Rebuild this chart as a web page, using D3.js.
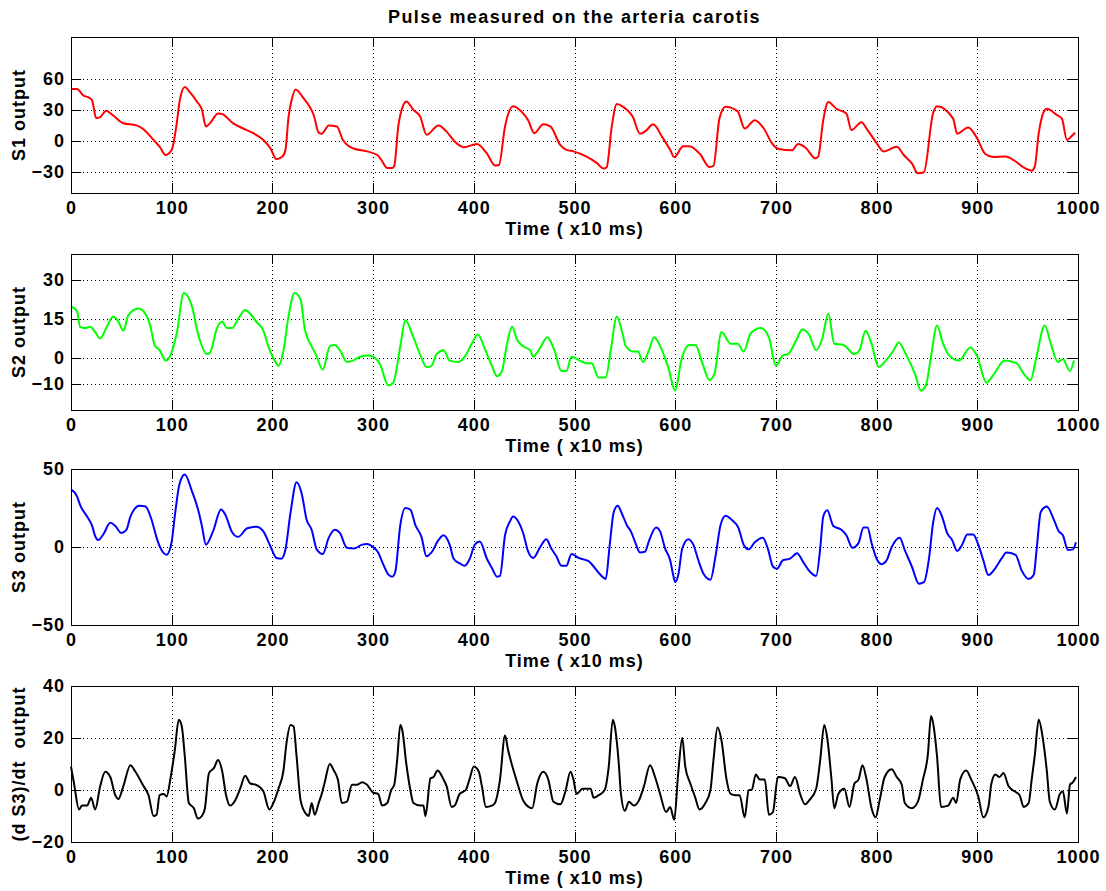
<!DOCTYPE html>
<html>
<head>
<meta charset="utf-8">
<script src="https://cdn.jsdelivr.net/npm/d3@7"></script>
<style>
    body { margin: 0; background: #fff; }
    text { font-family: "Liberation Sans", Arial, sans-serif; font-weight: bold; font-size: 18px; letter-spacing: 1px; fill: #000; }
    .title { letter-spacing: 1.4px; }
    .grid line { stroke: #000; stroke-width: 1; stroke-dasharray: 1,3; shape-rendering: crispEdges; }
    .tick line { stroke: #000; shape-rendering: crispEdges; }
    .box { fill: none; stroke: #000; stroke-width: 1; shape-rendering: crispEdges; }
</style>
</head>
<body>
<div id="chart"></div>
<script>
const timeTicks = [0, 100, 200, 300, 400, 500, 600, 700, 800, 900, 1000];

const s1Ticks = [-30, 0, 30, 60];
const s2Ticks = [-10, 0, 15, 30];
const s3Ticks = [-50, 0, 50];
const s4Ticks = [-20, 0, 20, 40];

// S1 (red), time in x10 ms
const s1Time = [0, 6, 12, 19, 21, 25, 29, 35, 40, 52, 65, 71, 82, 88, 94, 100, 105, 108, 113, 118, 125, 130, 134, 138, 146, 150, 161, 171, 181, 191, 198, 204, 210, 213, 216, 219, 223, 231, 237, 241, 246, 249, 256, 264, 270, 280, 294, 304, 308, 314, 319, 321, 325, 330, 333, 340, 347, 353, 365, 373, 381, 390, 403, 413, 421, 425, 431, 439, 449, 454, 460, 469, 476, 486, 492, 499, 512, 522, 529, 532, 537, 542, 548, 558, 565, 571, 578, 587, 595, 599, 608, 614, 625, 634, 638, 644, 650, 662, 669, 679, 688, 696, 702, 716, 722, 730, 739, 742, 747, 752, 760, 770, 775, 785, 790, 800, 807, 820, 827, 835, 841, 847, 856, 860, 876, 880, 891, 899, 908, 916, 928, 937, 947, 954, 957, 961, 966, 969, 979, 984, 989, 993, 997];
const s1Values = [50, 50, 44, 41, 39, 22, 23, 29, 26, 17, 15, 12, 1, -5.5, -13.5, -8.5, 17, 39, 52, 47, 38, 30, 14, 17, 26.5, 26, 17, 12, 7.5, 1, -7, -17.5, -15, -8.5, 23, 39, 49.5, 41, 33, 25, 8, 7, 15, 14, 1, -7, -10, -13.5, -18, -26, -26, -24, 14, 34.5, 38, 30, 23, 6, 15, 9, -0.5, -6, -3, -12, -23.5, -23, 14, 33.5, 26.5, 20, 7.5, 16, 14, -4, -8.5, -10, -15, -21, -26.5, -25, 14, 35.5, 33, 23, 7, 10, 16, 4, -8.5, -15.5, -5, -5, -13, -25, -24, 22, 33, 28.5, 12, 20, 12, -2, -7.5, -9, -3, -7, -16.5, -15, 20, 37.5, 31, 26.5, 10.5, 18, 12, -2, -10, -5.5, -13.5, -21.5, -31, -30, 26.5, 33.5, 21.5, 7, 13, 4, -12.5, -15.5, -15, -19, -26, -28.5, -25, 7.5, 28, 31, 25, 21.5, 1, 4, 8];

// S2 (green)
const s2Time = [0, 6, 9, 14, 19, 24, 29, 35, 42, 47, 52, 57, 67, 72, 79, 83, 88, 94, 98, 105, 112, 120, 126, 135, 138, 145, 150, 155, 160, 166, 173, 178, 184, 191, 196, 203, 206, 211, 216, 222, 228, 232, 239, 243, 250, 257, 262, 267, 274, 280, 287, 295, 300, 307, 315, 320, 327, 332, 340, 347, 353, 358, 363, 370, 376, 385, 391, 398, 404, 411, 418, 423, 428, 433, 438, 443, 449, 456, 459, 466, 473, 480, 487, 492, 497, 505, 512, 517, 524, 531, 536, 542, 547, 551, 558, 563, 568, 574, 579, 584, 593, 600, 606, 614, 620, 627, 634, 639, 646, 655, 662, 668, 675, 685, 693, 700, 707, 712, 721, 726, 733, 740, 746, 752, 758, 767, 778, 783, 789, 795, 802, 808, 817, 822, 829, 838, 844, 849, 854, 860, 866, 872, 882, 893, 900, 909, 916, 927, 939, 946, 953, 958, 967, 973, 980, 985, 992, 996];
const s2Values = [19.8, 18, 12, 11.5, 12, 10, 7.5, 11.5, 16, 14, 10.5, 16.5, 19, 18, 12, 5, 3, -1, 0.5, 9.5, 25, 20, 9.5, 1.5, 2, 11.5, 14, 11.5, 11.5, 15, 18.5, 17, 14, 10.5, 4.5, -1.5, -3, 3, 16, 25, 22.5, 11.5, 4.5, 1.5, -4.5, 4.5, 5, 3, -1.5, -1, 0.5, 1, 0.5, -2.5, -10.5, -9.5, 4.5, 14.5, 8, 1, -3.5, -3, 1.5, 3, -1, -1.5, 0.5, 5.5, 9, 3.5, -3, -7, -5, 5.5, 12, 7, 4.5, 3, 0.5, 4, 8, 3, -5, -5, 0.5, -1, -2, -2, -7.5, -7.5, 3, 16, 10.5, 4.5, 2.5, 2.5, -1.5, 3, 8, 5.5, -3.5, -12.5, -1, 5, 5, -2, -8.5, -6, 10, 5.5, 5.5, 2.5, 9.5, 11.5, 8, -3, 1, 1.5, 7.5, 11, 9, 3, 7.5, 17, 5.5, 5, 1.5, 3, 10.5, 5.5, -3.5, -1.5, 3, 6, 1.5, -6, -12.5, -10.5, 0.5, 12.5, 5.5, 1, -1, 4, 0.5, -9.5, -6.5, -1, -2, -6, -8.5, -1, 12.5, 5.5, -1.5, -0.5, -5, -1];

// S3 (blue)
const s3Time = [0, 6, 9, 16, 21, 24, 27, 32, 39, 44, 50, 55, 59, 68, 74, 80, 85, 88, 95, 100, 103, 108, 113, 120, 127, 130, 134, 141, 149, 153, 160, 166, 175, 184, 191, 198, 204, 209, 213, 218, 224, 229, 234, 239, 244, 250, 256, 262, 267, 274, 281, 289, 294, 300, 305, 310, 315, 319, 322, 327, 332, 337, 342, 348, 353, 358, 365, 370, 376, 380, 386, 391, 396, 401, 406, 413, 418, 423, 426, 431, 436, 439, 444, 449, 454, 459, 466, 472, 477, 482, 487, 492, 497, 504, 514, 519, 526, 531, 535, 539, 543, 547, 552, 556, 560, 565, 570, 574, 581, 585, 590, 595, 598, 600, 603, 607, 613, 618, 623, 628, 635, 640, 645, 650, 656, 663, 668, 673, 679, 687, 692, 697, 701, 707, 714, 721, 727, 734, 740, 744, 747, 751, 757, 765, 770, 776, 782, 787, 791, 795, 800, 805, 810, 815, 823, 828, 835, 842, 847, 852, 856, 860, 865, 870, 875, 880, 885, 890, 896, 901, 906, 911, 918, 924, 929, 938, 944, 951, 956, 959, 963, 969, 976, 981, 985, 990, 995, 998];
const s3Values = [37, 32.5, 27, 19.5, 13.5, 7, 4.5, 8, 15.5, 13.5, 9, 11, 19.5, 26.5, 26, 17.5, 6, 0.5, -5, 3.5, 19.5, 41, 46.5, 36, 22, 13.5, 1.5, 10, 24, 21, 9.5, 6.5, 12, 13, 10, 0.5, -7, -7.5, -1.5, 22, 41.5, 34.5, 17.5, 11, -1.5, -4.5, 6, 11, 9, -0.5, -1, 1.5, 2, 0, -3.5, -11, -17.5, -19, -16, 14, 25, 24, 14, 6.5, -6, -3.5, 4.5, 7.5, 1.5, -7.5, -10.5, -12, -7.5, 1.5, 3.5, -7.5, -13.5, -19, -18.5, 7.5, 16.5, 19.5, 16.5, 9, -3, -7, 0, 5, -1, -6, -12, -12, -4.5, -7, -9, -12.5, -18, -20.5, 1.5, 22.5, 26.5, 21.5, 14, 10, 3.5, -3.5, -3, 4, 12.5, 10, -1, -8.5, -18, -22.5, -18, -1, 5, 1.5, -8.5, -17, -21, -6, 14, 20, 17.5, 12, 1.5, -1.5, 3, 6, -1, -12.5, -14, -8.5, -7.5, -4, -9.5, -16, -18.5, -1, 19.5, 23.5, 13.5, 11, 7.5, -0.5, 2.5, 12.5, 12.5, 2.5, -7.5, -11, -8.5, 0, 6, -2, -12.5, -23.5, -22.5, -7.5, 15, 25, 19.5, 9, 4.5, -2.5, 1.5, 8, 8, 1.5, -8.5, -18, -13.5, -7.5, -3.5, -5, -15, -20.5, -18, -1, 22.5, 26, 17.5, 10, 7.5, -2, -1.5, 3];

// (d S3)/dt (black)
const s4Time = [0, 3, 8, 11, 16, 20, 24, 29, 34, 39, 44, 47, 52, 59, 64, 72, 77, 82, 85, 88, 92, 95, 99, 103, 107, 110, 113, 117, 122, 126, 130, 133, 137, 142, 146, 150, 154, 158, 163, 168, 173, 178, 184, 191, 197, 201, 206, 211, 214, 218, 221, 224, 228, 233, 236, 239, 242, 246, 249, 252, 257, 261, 265, 269, 274, 279, 284, 289, 294, 300, 305, 309, 314, 318, 321, 324, 327, 329, 333, 337, 340, 347, 350, 352, 357, 360, 364, 370, 373, 378, 381, 386, 392, 396, 400, 405, 408, 412, 418, 421, 426, 431, 434, 438, 443, 449, 458, 463, 469, 474, 479, 486, 491, 496, 499, 502, 508, 516, 519, 524, 530, 534, 538, 540, 544, 546, 550, 554, 559, 564, 569, 575, 580, 585, 591, 595, 599, 603, 607, 610, 615, 620, 624, 630, 635, 638, 642, 646, 651, 655, 660, 664, 669, 673, 676, 680, 684, 689, 693, 697, 702, 709, 714, 719, 724, 729, 733, 740, 744, 748, 751, 755, 758, 762, 768, 773, 778, 782, 786, 790, 795, 799, 803, 808, 815, 820, 825, 828, 835, 841, 846, 851, 854, 856, 860, 864, 871, 876, 879, 883, 889, 894, 901, 906, 911, 914, 918, 922, 926, 931, 937, 942, 946, 951, 954, 957, 961, 965, 969, 972, 977, 982, 985, 989, 992, 995, 998];
const s4Values = [9, 2.5, -7.5, -6, -6, -3, -7.5, 1.5, 7, 5, -2, -3.5, 1.5, 9.5, 7, 1.5, -2, -10, -9.5, -2, -1.5, -2.5, 5, 15, 27, 24.5, 13, -5, -7, -11, -10, -7, 6.5, 8.5, 11.5, 7.5, -2, -6, -4, 0.5, 5.5, 2.5, 2, -0.5, -7.5, -5, 0.5, 7.5, 18, 25, 24.5, 13, -4, -9, -10, -5, -9.5, -5, -1.5, 3, 10, 7.5, 4, -5, -4.5, 2, 2, 3, 2, -1, -1.5, -6, -5, 0, 2, 12, 25, 23, 10, 0, -5, -6, -6, -10, 4.5, 5, 7.5, 4, 1.5, -6.5, -6, -1.5, 0, 4.5, 9, 7, 1.5, -6.5, -6, -5, 4, 21, 15.5, 9.5, 3, -4, -7, 2.5, 7, 4, -4.5, -5.5, -0.5, 7, 4, -1.5, 0.5, 0.5, -3, -2, 0, 9, 27, 24.5, 10, -1, -8, -4.5, -6, -4, 1.5, 9.5, 5, -1.5, -8.5, -6.5, -11.5, 6.5, 20, 9, 2.5, -3, -7.5, -5, 0, 11.5, 24, 19, 4, -1.5, -2, -2, -10.5, 0, 0, 6, 4, 4, -9.5, -8.5, 5, 4.5, 1.5, 5, -1.5, -5.5, -4, 0.5, 11.5, 25, 20, 5, -7, -1.5, 0.5, -6.5, 2.5, 4, 9.5, 4, -7, -10.5, -4, 5, 8, 5, 2, -5, -7, -4.5, 4, 14, 28.5, 26, 13, -6.5, -6, -3, -5, 4, 7.5, 4, -2.5, -10.5, -6.5, 2.5, 6, 5, 6.5, 1.5, -0.5, -2, -6.5, -5, 4, 13, 27, 20, 7.5, -4.5, -7.5, -1.5, -0.5, -9, 2, 3, 5];

const svgSize = { width: 1106, height: 891 };
const plotLeft = 71;
const plotRight = 1078;
const plotHeight = 156;

const panels = [
    { time: s1Time, values: s1Values, ticks: s1Ticks, domain: [-50, 100], color: '#ff0000', label: 'S1 output', top: 37 },
    { time: s2Time, values: s2Values, ticks: s2Ticks, domain: [-20, 40], color: '#00ff00', label: 'S2 output', top: 254 },
    { time: s3Time, values: s3Values, ticks: s3Ticks, domain: [-50, 50], color: '#0000ff', label: 'S3 output', top: 469 },
    { time: s4Time, values: s4Values, ticks: s4Ticks, domain: [-20, 40], color: '#000000', label: '(d S3)/dt  output', top: 686 }
];

const svg = d3.select('#chart')
    .append('svg')
    .attr('width', svgSize.width)
    .attr('height', svgSize.height);

svg.append('rect')
    .attr('width', svgSize.width)
    .attr('height', svgSize.height)
    .attr('fill', '#fff');

svg.append('text')
    .attr('class', 'title')
    .attr('x', (plotLeft + plotRight) / 2)
    .attr('y', 23)
    .attr('text-anchor', 'middle')
    .text('Pulse measured on the arteria carotis');

const x = d3.scaleLinear().domain([0, 1000]).range([0, plotRight - plotLeft]);
const plotWidth = plotRight - plotLeft;

panels.forEach(panel => {
    const y = d3.scaleLinear().domain(panel.domain).range([plotHeight, 0]);

    const g = svg.append('g')
        .attr('transform', `translate(${plotLeft}, ${panel.top})`);

    // dotted grid
    const grid = g.append('g').attr('class', 'grid');
    grid.selectAll('.vgrid')
        .data(timeTicks.filter(t => t > 0 && t < 1000))
        .enter()
        .append('line')
            .attr('x1', d => Math.round(x(d)) + 0.5)
            .attr('x2', d => Math.round(x(d)) + 0.5)
            .attr('y1', 0)
            .attr('y2', plotHeight);
    grid.selectAll('.hgrid')
        .data(panel.ticks.filter(t => t > panel.domain[0] && t < panel.domain[1]))
        .enter()
        .append('line')
            .attr('x1', 0)
            .attr('x2', plotWidth)
            .attr('y1', d => Math.round(y(d)) + 0.5)
            .attr('y2', d => Math.round(y(d)) + 0.5);

    // inward ticks on all four sides
    g.append('g')
        .attr('transform', `translate(0, ${plotHeight})`)
        .call(d3.axisBottom(x).tickValues(timeTicks).tickFormat(d3.format('d'))
            .tickSizeInner(-10).tickSizeOuter(0).tickPadding(8));
    g.append('g')
        .call(d3.axisTop(x).tickValues(timeTicks).tickSizeInner(-10).tickSizeOuter(0).tickFormat(''));
    g.append('g')
        .call(d3.axisLeft(y).tickValues(panel.ticks).tickFormat(d3.format('d'))
            .tickSizeInner(-10).tickSizeOuter(0).tickPadding(6));
    g.append('g')
        .attr('transform', `translate(${plotWidth}, 0)`)
        .call(d3.axisRight(y).tickValues(panel.ticks).tickSizeInner(-10).tickSizeOuter(0).tickFormat(''));

    g.selectAll('.domain').remove();
    g.selectAll('g').attr('font-family', null).attr('font-size', null);

    const points = panel.time.map((t, i) => [t, panel.values[i]]);
    const line = d3.line()
        .x(d => x(d[0]))
        .y(d => y(d[1]))
        .curve(d3.curveMonotoneX);

    g.append('path')
        .datum(points)
        .attr('fill', 'none')
        .attr('stroke', panel.color)
        .attr('stroke-width', 2)
        .attr('stroke-linejoin', 'round')
        .attr('d', line);

    g.append('rect')
        .attr('class', 'box')
        .attr('x', 0.5)
        .attr('y', 0.5)
        .attr('width', plotWidth)
        .attr('height', plotHeight);

    g.append('text')
        .attr('x', plotWidth / 2)
        .attr('y', plotHeight + 42)
        .attr('text-anchor', 'middle')
        .text('Time ( x10 ms)');

    svg.append('text')
        .attr('transform', `translate(25, ${panel.top + plotHeight / 2}) rotate(-90)`)
        .attr('text-anchor', 'middle')
        .style('white-space', 'pre')
        .text(panel.label);
});
</script>
</body>
</html>
